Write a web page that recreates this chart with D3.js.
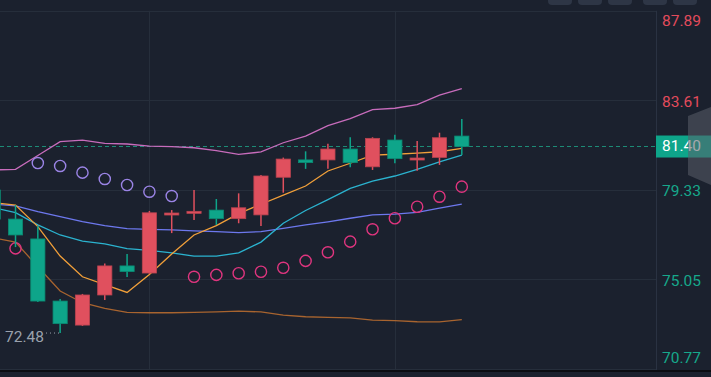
<!DOCTYPE html>
<html>
<head>
<meta charset="utf-8">
<script src="https://cdn.jsdelivr.net/npm/d3@7"></script>
<style>
	html, body { margin: 0; padding: 0; background: #1b212e; overflow: hidden; }
	svg { display: block; }
</style>
</head>
<body>
<svg id="chart" width="711" height="377"></svg>
<script>
// candles, oldest first (red = up, green = down)
var opens  = [79.32, 77.93, 76.98, 74.01, 72.86, 74.30, 75.69, 75.35, 78.13, 78.22, 78.36, 77.95, 78.13, 79.93, 80.76, 80.76, 81.28, 80.43, 81.71, 80.76, 80.88, 81.90];
var highs  = [79.60, 78.60, 77.60, 74.11, 74.35, 75.81, 76.26, 78.32, 78.36, 79.32, 78.89, 79.16, 80.04, 80.87, 81.17, 81.53, 81.84, 81.84, 81.96, 81.66, 82.06, 82.72];
var lows   = [77.80, 76.59, 73.97, 72.48, 72.82, 74.06, 75.16, 75.31, 77.26, 77.89, 77.65, 77.73, 77.60, 79.19, 80.33, 80.34, 80.41, 80.28, 80.60, 80.24, 80.52, 80.99];
var closes = [77.93, 77.17, 74.01, 72.93, 74.30, 75.69, 75.42, 78.23, 78.22, 78.30, 77.95, 78.47, 79.99, 80.80, 80.63, 81.28, 80.63, 81.79, 80.82, 80.85, 81.82, 81.40];

// indicator lines
var upperBand = [80.28, 80.31, 80.97, 81.63, 81.71, 81.55, 81.52, 81.42, 81.39, 81.34, 81.20, 81.02, 81.14, 81.58, 81.90, 82.40, 82.73, 83.16, 83.23, 83.40, 83.86, 84.17];
var maOrange  = [78.72, 78.60, 77.57, 76.16, 75.17, 74.80, 74.42, 75.28, 76.26, 77.17, 77.62, 78.19, 78.64, 79.08, 79.51, 80.23, 80.60, 80.99, 81.03, 81.08, 81.15, 81.31];
var maCyan    = [78.48, 78.24, 77.65, 77.17, 76.88, 76.74, 76.52, 76.43, 76.31, 76.16, 76.16, 76.31, 76.83, 77.73, 78.34, 78.86, 79.40, 79.75, 79.99, 80.31, 80.67, 80.99];
var maBlue    = [78.65, 78.56, 78.29, 78.05, 77.81, 77.62, 77.47, 77.44, 77.41, 77.37, 77.33, 77.28, 77.33, 77.49, 77.65, 77.80, 77.97, 78.13, 78.17, 78.25, 78.45, 78.65];
var lowerBand = [77.03, 76.83, 75.65, 74.49, 73.93, 73.66, 73.47, 73.45, 73.45, 73.47, 73.49, 73.53, 73.49, 73.34, 73.26, 73.23, 73.21, 73.10, 73.07, 73.02, 73.01, 73.12];
var sar       = [76.45, 76.53, 80.61, 80.47, 80.15, 79.85, 79.56, 79.24, 79.03, 75.17, 75.26, 75.34, 75.41, 75.60, 75.93, 76.34, 76.85, 77.44, 77.97, 78.52, 79.00, 79.48];

var priceTicks = [87.89, 83.61, 79.33, 75.05, 70.77];
var lastPrice = 81.40;
var dayBreaks = [7, 18];

var svg = d3.select('#chart'),
	W = +svg.attr('width'),
	H = +svg.attr('height'),
	plotRight = 656,
	plotTop = 10.8,
	plotBottom = 368.8;

var x = d3.scaleLinear().domain([0, 21]).range([-6.8, 461.8]);
var y = d3.scaleLinear().domain([70.77, 87.89]).range([plotBottom, plotTop]);
var candleW = 14.2;

var RED = '#e0505e', GREEN = '#0ea58a';

svg.append('rect').attr('width', W).attr('height', H).attr('fill', '#1b212e');

// top tab buttons (cut off at the top edge)
[548, 578, 608, 643, 673].forEach(function(bx) {
	svg.append('rect')
		.attr('x', bx).attr('y', -8)
		.attr('width', 24).attr('height', 13)
		.attr('rx', 4)
		.attr('fill', '#2e3646');
});

svg.append('defs').append('clipPath').attr('id', 'plot')
	.append('rect').attr('x', 0).attr('y', 0).attr('width', plotRight).attr('height', 370);

// grid
var grid = svg.append('g');
grid.selectAll('.hgrid').data(priceTicks).enter().append('line')
	.attr('x1', 0).attr('x2', plotRight)
	.attr('y1', function(d) { return Math.round(y(d)) + 0.5; })
	.attr('y2', function(d) { return Math.round(y(d)) + 0.5; })
	.attr('stroke', '#262e3b').attr('stroke-width', 1);
grid.selectAll('.vgrid').data(dayBreaks).enter().append('line')
	.attr('x1', function(d) { return Math.round(x(d)) + 0.5; })
	.attr('x2', function(d) { return Math.round(x(d)) + 0.5; })
	.attr('y1', plotTop).attr('y2', 370)
	.attr('stroke', '#262e3b').attr('stroke-width', 1);

// axis separator
svg.append('line')
	.attr('x1', plotRight + 0.5).attr('x2', plotRight + 0.5)
	.attr('y1', plotTop).attr('y2', 370)
	.attr('stroke', '#2a3242');

var g = svg.append('g').attr('clip-path', 'url(#plot)');

// last price dashed line
g.append('line')
	.attr('x1', 0).attr('x2', plotRight)
	.attr('y1', y(lastPrice)).attr('y2', y(lastPrice))
	.attr('stroke', '#1d8b76').attr('stroke-width', 1)
	.attr('stroke-dasharray', '4,3');

// indicator lines
var line = d3.line()
	.x(function(d, i) { return x(i); })
	.y(function(d) { return y(d); });

var series = [
	{ data: lowerBand, color: '#a8642f' },
	{ data: maBlue, color: '#6d78ee' },
	{ data: maCyan, color: '#2bb3cf' },
	{ data: upperBand, color: '#c86cbc' },
	{ data: maOrange, color: '#f2a03a' }
];
series.forEach(function(s) {
	g.append('path')
		.datum(s.data)
		.attr('d', line)
		.attr('fill', 'none')
		.attr('stroke', s.color)
		.attr('stroke-width', 1.3);
});

// parabolic SAR
g.selectAll('.sar').data(sar).enter().append('circle')
	.attr('cx', function(d, i) { return x(i); })
	.attr('cy', function(d) { return y(d); })
	.attr('r', 5.6)
	.attr('fill', 'none')
	.attr('stroke-width', 1.4)
	.attr('stroke', function(d, i) { return d > highs[i] ? '#9b84e6' : '#e0357f'; });

// candles
var candles = opens.map(function(o, i) {
	return { i: i, o: o, h: highs[i], l: lows[i], c: closes[i] };
});
var cg = g.selectAll('.candle').data(candles).enter().append('g');
cg.append('line')
	.attr('x1', function(d) { return x(d.i); })
	.attr('x2', function(d) { return x(d.i); })
	.attr('y1', function(d) { return y(d.h); })
	.attr('y2', function(d) { return y(d.l); })
	.attr('stroke-width', 1.5)
	.attr('stroke', function(d) { return d.c >= d.o ? RED : GREEN; });
cg.append('rect')
	.attr('x', function(d) { return x(d.i) - candleW / 2; })
	.attr('width', candleW)
	.attr('y', function(d) { return y(Math.max(d.o, d.c)); })
	.attr('height', function(d) { return Math.max(2, Math.abs(y(d.o) - y(d.c))); })
	.attr('fill', function(d) { return d.c >= d.o ? RED : GREEN; })
	.attr('stroke', function(d) { return d.c >= d.o ? '#b8434f' : '#0b8a73'; })
	.attr('stroke-width', 0.8);

// lowest low marker
var lowIdx = d3.minIndex(lows);
var lowY = y(lows[lowIdx]);
svg.append('text')
	.attr('x', 5).attr('y', lowY + 4.5)
	.attr('dominant-baseline', 'middle')
	.attr('font-family', 'Roboto, sans-serif').attr('font-size', 15.5)
	.attr('fill', '#9aa1ad')
	.text(lows[lowIdx].toFixed(2));
svg.append('line')
	.attr('x1', 46).attr('x2', x(lowIdx) - 1)
	.attr('y1', lowY).attr('y2', lowY)
	.attr('stroke', '#9aa1ad').attr('stroke-width', 1)
	.attr('stroke-dasharray', '1,3');

// price axis labels
svg.selectAll('.tick').data(priceTicks).enter().append('text')
	.attr('x', 662)
	.attr('y', function(d) { return Math.min(Math.max(y(d) + 2.5, 21.7), 359.2); })
	.attr('dominant-baseline', 'middle')
	.attr('font-family', 'Roboto, sans-serif').attr('font-size', 15.5)
	.attr('fill', function(d) { return d > lastPrice ? '#e34b5c' : '#16a88b'; })
	.text(function(d) { return d.toFixed(2); });

// last price tag
svg.append('rect')
	.attr('x', plotRight).attr('y', y(lastPrice) - 11)
	.attr('width', W - plotRight).attr('height', 22)
	.attr('fill', '#0ea58a');
svg.append('text')
	.attr('x', 662).attr('y', y(lastPrice) + 0.8)
	.attr('dominant-baseline', 'middle')
	.attr('font-family', 'Roboto, sans-serif').attr('font-size', 15.5)
	.attr('fill', '#ffffff')
	.text(lastPrice.toFixed(2));

// side handle overlay
svg.append('path')
	.attr('d', 'M711,107 L688,116 L688,175 L711,185 Z')
	.attr('fill', '#5a5f6a').attr('fill-opacity', 0.55);

// bottom border
svg.append('rect')
	.attr('x', 0).attr('y', 370).attr('width', W).attr('height', 2)
	.attr('fill', '#0b0d12');
</script>
</body>
</html>
